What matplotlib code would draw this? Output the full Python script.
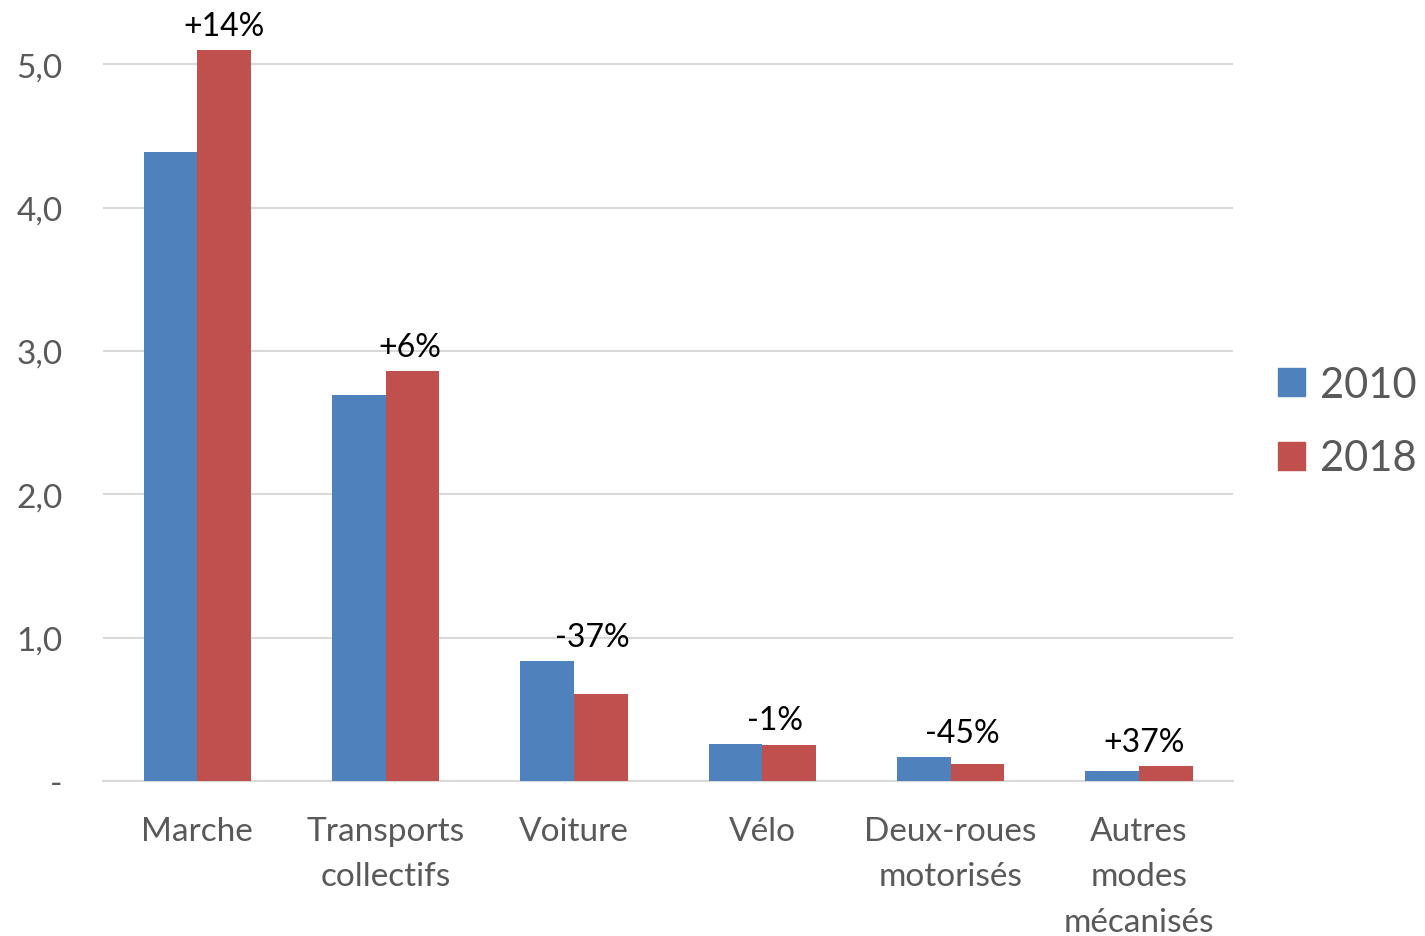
import matplotlib.pyplot as plt
import numpy as np
from matplotlib.patches import Patch

plt.rcParams['font.family'] = ['Lato', 'DejaVu Sans']

# data
categories = ['Marche', 'Transports\ncollectifs', 'Voiture', 'Vélo',
              'Deux-roues\nmotorisés', 'Autres\nmodes\nmécanisés']
values_2010 = [4.39, 2.69, 0.84, 0.26, 0.17, 0.07]
values_2018 = [5.10, 2.86, 0.61, 0.25, 0.12, 0.105]
changes = ['+14%', '+6%', '-37%', '-1%', '-45%', '+37%']

blue = '#4F81BD'
red = '#C0504D'
grey = '#595959'

fig = plt.figure(figsize=(14.25, 9.37), dpi=100)
ax = fig.add_axes([0.0723, 0.1654, 0.7930, 0.811])

x = np.arange(len(categories))
w = 0.285
ax.bar(x - w / 2, values_2010, w, color=blue, zorder=3)
ax.bar(x + w / 2, values_2018, w, color=red, zorder=3)

# percent change labels, placed slightly toward the 2018 bar
label_shift = [0.14, 0.13, 0.10, 0.07, 0.06, 0.03]
for i, txt in enumerate(changes):
    top = max(values_2010[i], values_2018[i])
    ax.annotate(txt, (x[i] + label_shift[i], top), xytext=(0, 17),
                textcoords='offset points', ha='center', va='center',
                fontsize=23, color='black')

ax.set_xlim(-0.5, len(categories) - 0.5)
ax.set_ylim(0, 5.3)
ax.set_yticks([0, 1, 2, 3, 4, 5])
ax.set_yticklabels(['-', '1,0', '2,0', '3,0', '4,0', '5,0'])
ax.set_xticks(x)
ax.set_xticklabels(categories, linespacing=1.65)
ax.tick_params(axis='both', length=0, labelsize=24, labelcolor=grey)
ax.tick_params(axis='y', pad=29)
ax.tick_params(axis='x', pad=25)
ax.grid(axis='y', color='#D9D9D9', linewidth=1.5, zorder=0)
for s in ['top', 'right', 'left']:
    ax.spines[s].set_visible(False)
ax.spines['bottom'].set_color('#D9D9D9')
ax.spines['bottom'].set_linewidth(1.5)

handles = [Patch(color=blue, label='2010'), Patch(color=red, label='2018')]
leg = fig.legend(handles=handles, loc='center left', bbox_to_anchor=(0.897, 0.549),
                 frameon=False, fontsize=30, handlelength=0.65, handleheight=0.65,
                 handletextpad=0.35, labelspacing=0.85, borderpad=0, borderaxespad=0)
for t in leg.get_texts():
    t.set_color(grey)

fig.savefig('out.png', dpi=100)
